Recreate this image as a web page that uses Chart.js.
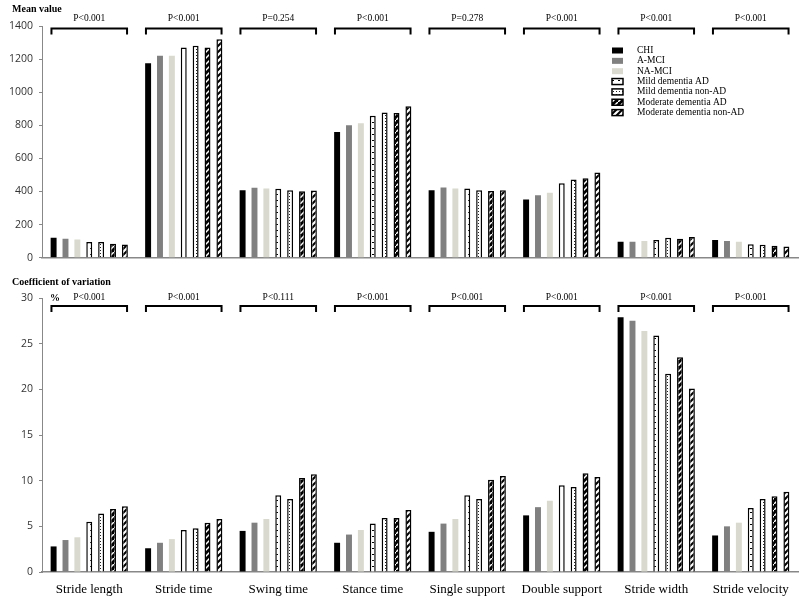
<!DOCTYPE html>
<html>
<head>
<meta charset="utf-8">
<script src="https://cdn.jsdelivr.net/npm/chart.js@4.4.1/dist/chart.umd.min.js"></script>
<style>
body { margin:0; background:#fff; }
#wrap { position:relative; width:800px; height:609px; }
.box { position:absolute; left:0; width:800px; }
#top { top:0; height:270px; }
#bot { top:270px; height:339px; }
.ttl { position:absolute; left:12px; font:bold 10px "Liberation Serif", serif; color:#000; }
</style>
</head>
<body>
<div id="wrap">
  <div class="box" id="top"><canvas id="meanChart"></canvas></div>
  <div class="box" id="bot"><canvas id="cvChart"></canvas></div>
  <div class="ttl" style="top:3px">Mean value</div>
  <div class="ttl" style="top:276px">Coefficient of variation</div>
  <div class="ttl" style="top:292px;left:50px">%</div>
</div>
<script>
// data
const categories = ['Stride length', 'Stride time', 'Swing time', 'Stance time', 'Single support', 'Double support', 'Stride width', 'Stride velocity'];
const groups = ['CHI', 'A-MCI', 'NA-MCI', 'Mild dementia AD', 'Mild dementia non-AD', 'Moderate dementia AD', 'Moderate dementia non-AD'];

const meanCHI      = [120, 1175, 408, 760, 408, 352, 96, 107];
const meanAMCI     = [115, 1220, 422, 800, 424, 377, 96, 101];
const meanNAMCI    = [110, 1220, 418, 812, 418, 393, 101, 97];
const meanMildAD   = [95, 1270, 416, 858, 418, 450, 107, 82];
const meanMildNon  = [95, 1280, 408, 878, 408, 472, 121, 78];
const meanModAD    = [85, 1270, 402, 875, 403, 480, 115, 72];
const meanModNon   = [80, 1320, 406, 915, 408, 515, 125, 68];

const cvCHI     = [2.8, 2.6, 4.5, 3.2, 4.4, 6.2, 27.9, 4.0];
const cvAMCI    = [3.5, 3.2, 5.4, 4.1, 5.3, 7.1, 27.5, 5.0];
const cvNAMCI   = [3.8, 3.6, 5.8, 4.6, 5.8, 7.8, 26.4, 5.4];
const cvMildAD  = [5.5, 4.6, 8.4, 5.3, 8.4, 9.5, 25.9, 7.0];
const cvMildNon = [6.4, 4.8, 8.0, 5.9, 8.0, 9.3, 21.7, 8.0];
const cvModAD   = [6.9, 5.4, 10.3, 5.9, 10.1, 10.8, 23.5, 8.3];
const cvModNon  = [7.2, 5.8, 10.7, 6.8, 10.5, 10.4, 20.1, 8.8];

const meanP = ['P<0.001', 'P<0.001', 'P=0.254', 'P<0.001', 'P=0.278', 'P<0.001', 'P<0.001', 'P<0.001'];
const cvP   = ['P<0.001', 'P<0.001', 'P<0.111', 'P<0.001', 'P<0.001', 'P<0.001', 'P<0.001', 'P<0.001'];

const meanTicks = [0, 1400, 200];
const cvTicks = [0, 30, 5];

// fill patterns
function makePattern(w, h, draw) {
    let c = document.createElement('canvas');
    c.width = w; c.height = h;
    let g = c.getContext('2d');
    draw(g);
    return g.createPattern(c, 'repeat');
}
let patMildAD = makePattern(6, 6, g => {
    g.fillStyle = '#fff'; g.fillRect(0, 0, 6, 6);
    g.fillStyle = '#000'; g.fillRect(0, 2, 2, 1);
});
let patMildNon = makePattern(3, 3, g => {
    g.fillStyle = '#fff'; g.fillRect(0, 0, 3, 3);
    g.fillStyle = '#222'; g.fillRect(1, 1, 1, 1);
});
let patModAD = makePattern(6, 6, g => {
    g.fillStyle = '#000'; g.fillRect(0, 0, 6, 6);
    g.strokeStyle = '#fff'; g.lineWidth = 1.5;
    g.beginPath(); g.moveTo(0, 6); g.lineTo(6, 0); g.stroke();
});
let patModNon = makePattern(6, 6, g => {
    g.fillStyle = '#fff'; g.fillRect(0, 0, 6, 6);
    g.strokeStyle = '#000'; g.lineWidth = 2;
    g.beginPath(); g.moveTo(0, 6); g.lineTo(6, 0); g.stroke();
    g.beginPath(); g.moveTo(-1, 1); g.lineTo(1, -1); g.stroke();
    g.beginPath(); g.moveTo(5, 7); g.lineTo(7, 5); g.stroke();
});

const fills = ['#000000', '#808080', '#d9d9cf', patMildAD, patMildNon, patModAD, patModNon];
const borders = [0, 0, 0, 1.5, 1.5, 1.5, 1.5];

function buildSets(arrs) {
    return arrs.map((d, i) => ({
        label: groups[i],
        data: d,
        backgroundColor: fills[i],
        borderColor: '#000',
        borderWidth: borders[i],
        categoryPercentage: 0.88,
        barPercentage: 0.5
    }));
}

// brackets with p-values
const pBrackets = {
    id: 'pBrackets',
    afterDatasetsDraw(chart, args, opts) {
        let ctx = chart.ctx, x = chart.scales.x, y = chart.scales.y;
        let ly = y.getPixelForValue(opts.lineAt), ty = y.getPixelForValue(opts.textAt);
        let half = x.width / categories.length * 0.4;
        ctx.save();
        ctx.strokeStyle = '#000';
        ctx.lineWidth = 2;
        ctx.fillStyle = '#000';
        ctx.font = '9.5px "Liberation Serif", serif';
        ctx.textAlign = 'center';
        ctx.textBaseline = 'middle';
        opts.labels.forEach((t, i) => {
            let cx = x.getPixelForValue(i);
            ctx.beginPath();
            ctx.moveTo(cx - half, ly + 6);
            ctx.lineTo(cx - half, ly);
            ctx.lineTo(cx + half, ly);
            ctx.lineTo(cx + half, ly + 6);
            ctx.stroke();
            ctx.fillText(t, cx, ty);
        });
        ctx.restore();
    }
};

// legend drawn inside the top chart
const sideLegend = {
    id: 'sideLegend',
    afterDraw(chart, args, opts) {
        if (!opts.show) return;
        let ctx = chart.ctx;
        let x0 = chart.chartArea.right - 186, y0 = 50.5;
        ctx.save();
        ctx.font = '9.5px "Liberation Serif", serif';
        ctx.textBaseline = 'middle';
        chart.data.datasets.forEach((ds, i) => {
            let yy = y0 + i * 10.35;
            ctx.fillStyle = ds.backgroundColor;
            ctx.fillRect(x0, yy - 3, 11, 6);
            if (ds.borderWidth) {
                ctx.strokeStyle = '#000';
                ctx.lineWidth = 1.5;
                ctx.strokeRect(x0, yy - 3, 11, 6);
            }
            ctx.fillStyle = '#000';
            ctx.fillText(ds.label, x0 + 25, yy);
        });
        ctx.restore();
    }
};

function yAxis(t) {
    return {
        min: t[0], max: t[1],
        afterFit: s => { s.width = 42; },
        ticks: {
            stepSize: t[2], color: '#333', padding: 6,
            font: { family: 'Open Sans', size: 10.5 },
            callback: v => String(v)
        },
        grid: { display: true, drawOnChartArea: false, tickLength: 3, color: '#888' },
        border: { display: true, color: '#888', width: 1 }
    };
}

const meanChart = new Chart(document.getElementById('meanChart'), {
    type: 'bar',
    data: {
        labels: categories,
        datasets: buildSets([meanCHI, meanAMCI, meanNAMCI, meanMildAD, meanMildNon, meanModAD, meanModNon])
    },
    options: {
        responsive: true,
        maintainAspectRatio: false,
        animation: false,
        layout: { padding: { top: 26, right: 2, bottom: 4, left: 0 } },
        scales: {
            x: {
                afterFit: s => { s.height = 0; },
                ticks: { display: false },
                grid: { display: false },
                border: { display: true, color: '#888', width: 1.5 }
            },
            y: yAxis(meanTicks)
        },
        plugins: {
            legend: { display: false },
            tooltip: { enabled: false },
            pBrackets: { labels: meanP, lineAt: 1385, textAt: 1445 },
            sideLegend: { show: true }
        }
    },
    plugins: [pBrackets, sideLegend]
});

const cvChart = new Chart(document.getElementById('cvChart'), {
    type: 'bar',
    data: {
        labels: categories,
        datasets: buildSets([cvCHI, cvAMCI, cvNAMCI, cvMildAD, cvMildNon, cvModAD, cvModNon])
    },
    options: {
        responsive: true,
        maintainAspectRatio: false,
        animation: false,
        layout: { padding: { top: 28, right: 2, bottom: 7, left: 0 } },
        scales: {
            x: {
                afterFit: s => { s.height = 30; },
                ticks: { color: '#000', padding: 2, font: { family: 'Liberation Serif', size: 13 } },
                grid: { display: false },
                border: { display: true, color: '#888', width: 1.5 }
            },
            y: yAxis(cvTicks)
        },
        plugins: {
            legend: { display: false },
            tooltip: { enabled: false },
            pBrackets: { labels: cvP, lineAt: 29.13, textAt: 30.1 },
            sideLegend: { show: false }
        }
    },
    plugins: [pBrackets, sideLegend]
});
</script>
</body>
</html>
